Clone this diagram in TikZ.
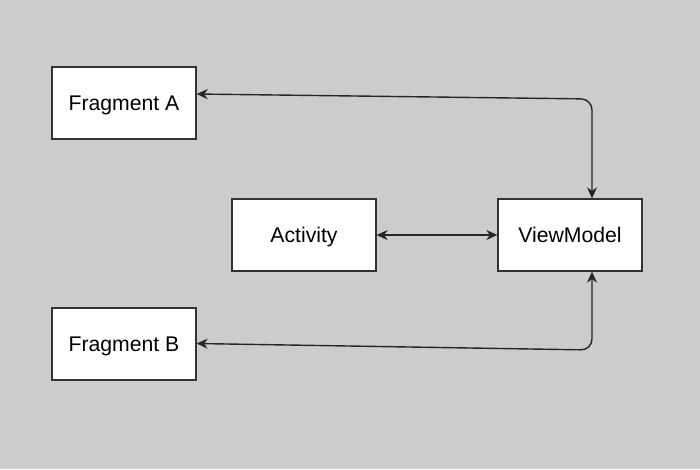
\documentclass[tikz,border=0pt]{standalone}
\usepackage{fontspec}
\setmainfont{Liberation Sans}
\usetikzlibrary{arrows.meta}
\begin{document}
\begin{tikzpicture}[x=1pt,y=-1pt,
  box/.style={draw=black!80, line width=1.3pt, fill=white, minimum width=144pt, minimum height=72pt, inner sep=0pt, text height=15.3pt, text depth=0pt, font=\fontsize{21.2}{25}\selectfont},
  conn/.style={draw=black!85, line width=1.4pt, {Stealth[length=11pt,width=10pt,inset=3.5pt]}-{Stealth[length=11pt,width=10pt,inset=3.5pt]}, rounded corners=11pt}]
\fill[black!20] (0,0) rectangle (700,469);
\useasboundingbox (0,0) rectangle (700,469);
\node[box] (fa) at (124,103) {Fragment A};
\node[box] (act) at (304,235) {Activity};
\node[box] (vm) at (570,235) {ViewModel};
\node[box] (fb) at (124,344) {Fragment B};
\coordinate (ca) at (592,99);
\coordinate (cb) at (592,350);
\draw[conn] (fa.east |- 0,94) -- (ca) -- (vm.north -| ca);
\draw[conn] (fb.east |- 0,343.5) -- (cb) -- (vm.south -| cb);
\draw[conn] (act.east) -- (vm.west);
\end{tikzpicture}
\end{document}
